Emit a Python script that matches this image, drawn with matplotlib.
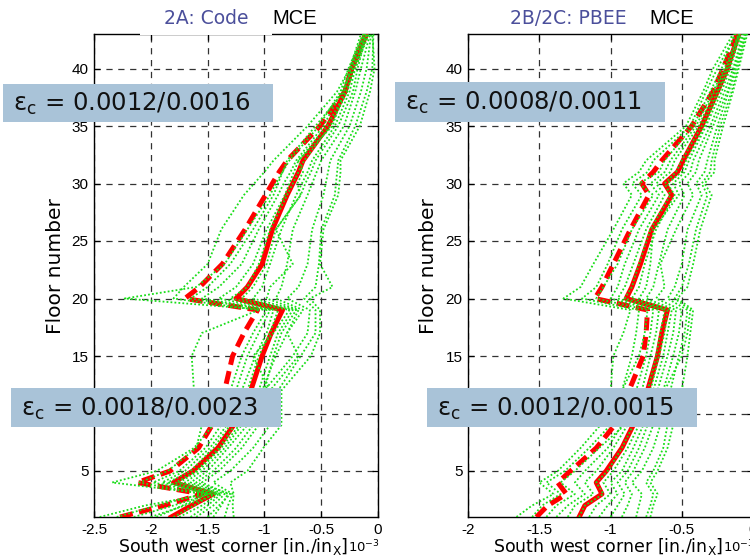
import matplotlib
matplotlib.use('Agg')
import matplotlib.pyplot as plt
from matplotlib.patches import Rectangle

plt.rcParams['axes.unicode_minus'] = False
plt.rcParams['font.family'] = ['Liberation Sans', 'DejaVu Sans']

# ---------------- data ----------------
floors = [1, 2, 3, 4, 5, 7, 9, 12, 15, 17, 19, 20, 21, 23, 26, 29, 30, 31, 32, 35, 38, 40, 43]

code_mean = [-1.82, -1.64, -1.45, -1.80, -1.63, -1.41, -1.27, -1.12, -1.02, -0.94, -0.84, -1.25,
             -1.15, -1.02, -0.93, -0.80, -0.75, -0.70, -0.66, -0.44, -0.29, -0.23, -0.11]
code_dashed = [-2.27, -1.88, -1.55, -2.12, -1.83, -1.58, -1.46, -1.35, -1.28, -1.18, -1.06, -1.70,
               -1.57, -1.37, -1.17, -0.99, -0.93, -0.87, -0.80, -0.51, -0.29, -0.23, -0.10]
code_records = [
    [-2.45, -2.05, -1.50, -2.34, -1.95, -1.62, -1.45, -1.30, -1.20, -1.10, -0.98, -2.23, -1.60, -1.35, -1.15, -0.95, -0.90, -0.84, -0.78, -0.52, -0.33, -0.26, -0.13],
    [-2.30, -1.95, -1.55, -2.10, -1.85, -1.60, -1.55, -1.62, -1.64, -1.55, -1.05, -1.80, -1.71, -1.50, -1.38, -1.18, -1.09, -1.00, -0.92, -0.62, -0.36, -0.25, -0.15],
    [-2.15, -1.80, -1.48, -1.98, -1.75, -1.52, -1.38, -1.25, -1.15, -1.05, -0.95, -1.65, -1.50, -1.30, -1.10, -0.92, -0.88, -0.84, -0.80, -0.55, -0.30, -0.24, -0.12],
    [-2.00, -1.70, -1.42, -1.90, -1.70, -1.48, -1.33, -1.20, -1.08, -0.98, -0.92, -1.55, -1.40, -1.20, -1.05, -0.88, -0.83, -0.77, -0.72, -0.48, -0.32, -0.22, -0.10],
    [-1.95, -1.72, -1.50, -1.85, -1.65, -1.45, -1.30, -1.15, -1.05, -0.95, -0.88, -1.40, -1.25, -1.10, -0.98, -0.82, -0.78, -0.74, -0.70, -0.45, -0.28, -0.20, -0.11],
    [-1.80, -1.62, -1.45, -1.78, -1.60, -1.40, -1.26, -0.95, -1.10, -0.92, -0.78, -1.30, -1.15, -1.05, -0.95, -0.80, -0.75, -0.70, -0.65, -0.42, -0.27, -0.22, -0.09],
    [-1.75, -1.55, -1.40, -1.75, -1.58, -1.38, -1.22, -1.05, -0.95, -0.88, -0.75, -1.20, -1.10, -0.98, -0.90, -0.68, -0.71, -0.66, -0.70, -0.40, -0.30, -0.24, -0.12],
    [-1.65, -1.50, -1.38, -1.70, -1.55, -1.35, -1.20, -1.00, -0.92, -0.85, -0.72, -1.10, -1.02, -0.95, -0.85, -0.72, -0.67, -0.62, -0.58, -0.38, -0.25, -0.20, -0.08],
    [-1.60, -1.45, -1.35, -1.65, -1.50, -1.32, -1.15, -1.02, -0.90, -0.80, -0.70, -0.98, -0.95, -0.75, -0.90, -0.68, -0.64, -0.59, -0.55, -0.35, -0.22, -0.18, -0.10],
    [-1.50, -1.40, -1.30, -1.60, -1.45, -1.25, -1.10, -0.95, -0.70, -0.80, -0.66, -0.90, -0.85, -0.80, -0.75, -0.62, -0.58, -0.54, -0.50, -0.30, -0.20, -0.15, -0.07],
    [-1.45, -1.38, -1.32, -1.55, -1.40, -1.20, -1.05, -1.00, -0.75, -0.62, -0.60, -0.80, -0.70, -0.62, -0.58, -0.48, -0.46, -0.44, -0.42, -0.25, -0.15, -0.10, -0.06],
    [-1.35, -1.32, -1.28, -1.45, -1.30, -1.10, -0.95, -0.88, -0.68, -0.55, -0.55, -0.65, -0.55, -0.52, -0.50, -0.38, -0.37, -0.36, -0.35, -0.20, -0.10, -0.05, -0.04],
    [-1.27, -1.28, -1.27, -1.30, -1.15, -1.01, -0.85, -0.85, -0.59, -0.51, -0.51, -0.60, -0.40, -0.51, -0.48, -0.35, -0.34, -0.33, -0.33, -0.16, -0.07, -0.03, -0.05],
]

pbee_mean = [-1.22, -1.18, -1.06, -1.10, -1.03, -0.92, -0.84, -0.74, -0.67, -0.64, -0.60, -0.89,
             -0.85, -0.79, -0.71, -0.57, -0.62, -0.53, -0.49, -0.36, -0.25, -0.18, -0.10]
pbee_dashed = [-1.52, -1.44, -1.31, -1.37, -1.28, -1.10, -0.97, -0.87, -0.77, -0.75, -0.74, -1.11,
               -1.06, -0.98, -0.86, -0.73, -0.78, -0.70, -0.64, -0.43, -0.28, -0.21, -0.11]
pbee_records = [
    [-1.66, -1.55, -1.40, -1.50, -1.37, -1.21, -1.07, -1.00, -0.98, -0.91, -0.86, -1.33, -1.21, -1.12, -0.98, -0.85, -0.91, -0.80, -0.75, -0.47, -0.35, -0.28, -0.14],
    [-1.55, -1.48, -1.35, -1.45, -1.32, -1.15, -1.00, -0.92, -0.85, -0.82, -0.80, -1.20, -1.10, -1.02, -0.92, -0.78, -0.85, -0.74, -0.70, -0.44, -0.33, -0.25, -0.12],
    [-1.45, -1.38, -1.25, -1.35, -1.25, -1.08, -0.90, -0.92, -0.80, -0.76, -0.74, -1.10, -1.05, -0.95, -0.85, -0.70, -0.80, -0.66, -0.62, -0.42, -0.30, -0.22, -0.13],
    [-1.38, -1.30, -1.18, -1.25, -1.18, -1.02, -0.92, -0.82, -0.75, -0.72, -0.70, -1.00, -0.95, -0.90, -0.80, -0.66, -0.72, -0.62, -0.58, -0.40, -0.28, -0.20, -0.10],
    [-1.30, -1.25, -1.12, -1.18, -1.10, -0.98, -0.88, -0.78, -0.72, -0.68, -0.66, -0.95, -0.90, -0.84, -0.75, -0.62, -0.68, -0.58, -0.55, -0.38, -0.27, -0.19, -0.09],
    [-1.22, -1.18, -1.05, -1.10, -1.02, -0.92, -0.84, -0.74, -0.68, -0.65, -0.62, -0.90, -0.85, -0.80, -0.72, -0.58, -0.62, -0.54, -0.50, -0.36, -0.25, -0.18, -0.10],
    [-1.15, -1.10, -1.00, -1.05, -0.98, -0.88, -0.80, -0.72, -0.66, -0.62, -0.60, -0.85, -0.80, -0.76, -0.68, -0.55, -0.60, -0.50, -0.47, -0.34, -0.24, -0.17, -0.08],
    [-1.08, -1.02, -0.95, -1.00, -0.92, -0.84, -0.77, -0.70, -0.63, -0.60, -0.57, -0.80, -0.75, -0.72, -0.70, -0.52, -0.56, -0.48, -0.45, -0.33, -0.22, -0.16, -0.09],
    [-1.00, -0.95, -0.90, -0.95, -0.88, -0.80, -0.74, -0.67, -0.60, -0.56, -0.54, -0.75, -0.70, -0.66, -0.60, -0.48, -0.52, -0.44, -0.42, -0.30, -0.20, -0.14, -0.07],
    [-0.92, -0.88, -0.85, -0.90, -0.84, -0.76, -0.70, -0.63, -0.56, -0.52, -0.50, -0.68, -0.62, -0.65, -0.54, -0.42, -0.46, -0.40, -0.38, -0.28, -0.18, -0.13, -0.06],
    [-0.82, -0.80, -0.78, -0.85, -0.78, -0.70, -0.65, -0.58, -0.52, -0.48, -0.46, -0.60, -0.55, -0.50, -0.46, -0.36, -0.40, -0.34, -0.32, -0.25, -0.17, -0.12, -0.05],
    [-0.75, -0.72, -0.70, -0.75, -0.70, -0.63, -0.60, -0.62, -0.50, -0.46, -0.44, -0.55, -0.50, -0.45, -0.40, -0.32, -0.36, -0.30, -0.29, -0.23, -0.15, -0.11, -0.05],
    [-0.72, -0.70, -0.67, -0.72, -0.67, -0.60, -0.56, -0.50, -0.46, -0.44, -0.42, -0.53, -0.46, -0.42, -0.37, -0.29, -0.34, -0.27, -0.27, -0.21, -0.14, -0.10, -0.04],
]

code_xticks = [-2.5, -2, -1.5, -1, -0.5, 0]
pbee_xticks = [-2, -1.5, -1, -0.5, 0]
yticks = [5, 10, 15, 20, 25, 30, 35, 40]
code_xticklabels = ['-2.5', '-2', '-1.5', '-1', '-0.5', '0']
pbee_xticklabels = ['-2', '-1.5', '-1', '-0.5', '0']

titles = ['2A: Code', '2B/2C: PBEE']
eps_labels = [('0.0012/0.0016', '0.0018/0.0023'), ('0.0008/0.0011', '0.0012/0.0015')]

# ---------------- figure ----------------
W, H = 750, 560
fig = plt.figure(figsize=(W / 100, H / 100), dpi=100)


def fx(px):
    return px / W


def fy(py):
    return 1 - py / H


ax1 = fig.add_axes([fx(94), fy(517), 284 / W, 483 / H])
ax2 = fig.add_axes([fx(468), fy(517), 285 / W, 483 / H])

GREEN = '#19dd19'
BOX = '#a9c3d8'
TITLE_C = '#4b4f9b'

panels = [
    (ax1, code_mean, code_dashed, code_records, (-2.5, 0), code_xticks, code_xticklabels),
    (ax2, pbee_mean, pbee_dashed, pbee_records, (-2, 0), pbee_xticks, pbee_xticklabels),
]

for ax, mean, dashed, records, xlim, xt, xtl in panels:
    ax.plot(dashed, floors, color='red', lw=3.6, linestyle=(0, (2.6, 1.3)), zorder=3,
            solid_capstyle='butt', dash_capstyle='butt')
    ax.plot(mean, floors, color='red', lw=3.6, zorder=3)
    for rec in records:
        ax.plot(rec, floors, color=GREEN, lw=1.3, linestyle=(0, (1, 1.2)), zorder=4)
    ax.set_xlim(*xlim)
    ax.set_ylim(1, 43)
    ax.set_xticks(xt)
    ax.set_xticklabels(xtl)
    ax.set_yticks(yticks)
    ax.grid(True, color='0.2', linestyle=(0, (5, 4.5)), lw=0.9)
    ax.set_axisbelow(True)
    ax.tick_params(direction='in', top=True, right=True, length=4, width=0.9,
                   labelsize=11, pad=4)
    for s in ax.spines.values():
        s.set_linewidth(1.0)
        s.set_color('black')
    ax.set_xlabel('South west corner [in./in$_\\mathregular{X}$]', family='DejaVu Sans',
                  fontsize=12.5)
    ax.xaxis.set_label_coords(0.49, -0.062)
    ax.xaxis.label.set_va('center')
    ax.annotate('10$^{\\mathregular{-3}}$', xy=(1, 0.12), xycoords=ax.xaxis.label,
                ha='left', va='bottom', fontsize=9.5, family='DejaVu Sans')
    ax.set_ylabel('Floor number', family='DejaVu Sans', fontsize=14.5)
    ax.yaxis.set_label_coords(-0.137, 0.52)
    ax.yaxis.label.set_va('center')

# white patch hiding part of the left top border (behind the title)
fig.add_artist(Rectangle((fx(140), fy(35.4)), 132 / W, 35.4 / H, transform=fig.transFigure,
                         facecolor='white', edgecolor='none', zorder=5))

# titles
fig.text(fx(206), fy(18), titles[0], ha='center', va='center', color=TITLE_C,
         fontsize=13.5, family='DejaVu Sans', zorder=6)
fig.text(fx(295), fy(18), 'MCE', ha='center', va='center', color='black',
         fontsize=14.5, family='Liberation Sans', zorder=6)
fig.text(fx(568), fy(18), titles[1], ha='center', va='center', color=TITLE_C,
         fontsize=13.5, family='DejaVu Sans', zorder=6)
fig.text(fx(672), fy(18), 'MCE', ha='center', va='center', color='black',
         fontsize=14.5, family='Liberation Sans', zorder=6)

# epsilon boxes: (x0, y0, x1, y1) in pixels
boxes = [
    ((3, 84, 273, 122), eps_labels[0][0]),
    ((11, 388, 281, 427), eps_labels[0][1]),
    ((395, 82, 665, 122), eps_labels[1][0]),
    ((427, 388, 697, 427), eps_labels[1][1]),
]
for (x0, y0, x1, y1), lab in boxes:
    fig.add_artist(Rectangle((fx(x0), fy(y1)), (x1 - x0) / W, (y1 - y0) / H,
                             transform=fig.transFigure, facecolor=BOX, edgecolor='none',
                             zorder=7))
    fig.text(fx(x0 + 10), fy((y0 + y1) / 2 + 1), 'ε$_\\mathregular{c}$ = ' + lab,
             ha='left', va='center', fontsize=17.5, family='DejaVu Sans', color='#111111',
             zorder=8)

fig.savefig('out.png', dpi=100)
